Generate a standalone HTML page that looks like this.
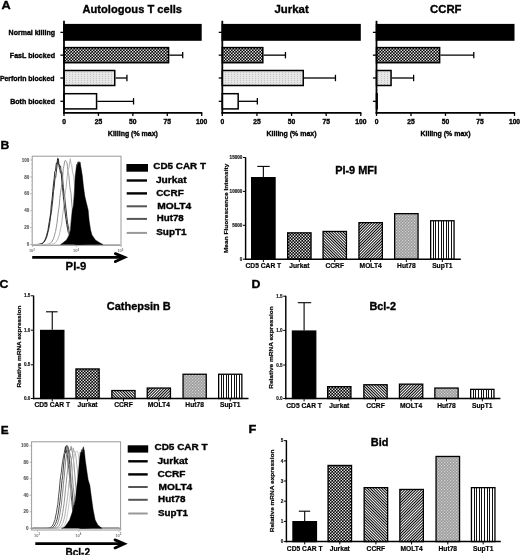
<!DOCTYPE html>
<html><head><meta charset="utf-8"><style>
html,body{margin:0;padding:0;background:#fff;}
svg{display:block;filter:grayscale(1) blur(0.45px);}
</style></head><body>
<svg width="520" height="555" viewBox="0 0 520 555" font-family="Liberation Sans, sans-serif" font-weight="bold">
<defs>
<pattern id="pCheck" width="3" height="3" patternUnits="userSpaceOnUse">
 <rect width="3" height="3" fill="#000"/>
 <rect x="0.1" y="0.1" width="1.35" height="1.35" fill="#fff"/>
 <rect x="1.6" y="1.6" width="1.35" height="1.35" fill="#fff"/>
</pattern>
<pattern id="pDots" width="3" height="2" patternUnits="userSpaceOnUse">
 <rect width="3" height="2" fill="#e6e6e6"/>
 <rect x="0" y="0" width="1" height="1" fill="#c4c4c4"/>
</pattern>
<pattern id="pBS" width="2" height="2" patternUnits="userSpaceOnUse" patternTransform="rotate(-45)">
 <rect width="2" height="2" fill="#fff"/>
 <rect width="1" height="2" fill="#000"/>
</pattern>
<pattern id="pFS" width="2" height="2" patternUnits="userSpaceOnUse" patternTransform="rotate(45)">
 <rect width="2" height="2" fill="#fff"/>
 <rect width="1" height="2" fill="#000"/>
</pattern>
<pattern id="pHut" width="3" height="3" patternUnits="userSpaceOnUse">
 <rect width="3" height="3" fill="#9c9c9c"/>
 <rect width="1.2" height="1.2" fill="#d4d4d4"/>
 <rect x="1.5" y="1.5" width="1.2" height="1.2" fill="#d4d4d4"/>
</pattern>
<pattern id="pVert" width="2.75" height="3" patternUnits="userSpaceOnUse" x="430">
 <rect width="2.75" height="3" fill="#fff"/>
 <rect width="1" height="3" fill="#000"/>
</pattern>
</defs>
<text x="6.00" y="8.80" font-size="11.5" text-anchor="middle" fill="#000" stroke="#000" stroke-width="0.35" textLength="9.20" lengthAdjust="spacingAndGlyphs" >A</text>
<text x="4.90" y="148.60" font-size="11.5" text-anchor="middle" fill="#000" stroke="#000" stroke-width="0.35" textLength="8.80" lengthAdjust="spacingAndGlyphs" >B</text>
<text x="4.00" y="288.30" font-size="11.5" text-anchor="middle" fill="#000" stroke="#000" stroke-width="0.35" textLength="8.90" lengthAdjust="spacingAndGlyphs" >C</text>
<text x="255.85" y="287.60" font-size="11.5" text-anchor="middle" fill="#000" stroke="#000" stroke-width="0.35" textLength="8.90" lengthAdjust="spacingAndGlyphs" >D</text>
<text x="4.60" y="433.50" font-size="11.5" text-anchor="middle" fill="#000" stroke="#000" stroke-width="0.35" textLength="7.90" lengthAdjust="spacingAndGlyphs" >E</text>
<text x="252.30" y="433.20" font-size="11.5" text-anchor="middle" fill="#000" stroke="#000" stroke-width="0.35" textLength="7.80" lengthAdjust="spacingAndGlyphs" >F</text>
<text x="132.30" y="12.50" font-size="11.3" text-anchor="middle" fill="#000" stroke="#000" stroke-width="0.35" textLength="99.50" lengthAdjust="spacingAndGlyphs" >Autologous T cells</text>
<rect x="64.00" y="24.65" width="136.95" height="15.40" fill="#000" stroke="#000" stroke-width="1.5"/>
<rect x="64.00" y="47.60" width="104.59" height="15.10" fill="url(#pCheck)" stroke="#000" stroke-width="1.5"/>
<line x1="169.34" y1="55.15" x2="182.70" y2="55.15" stroke="#000" stroke-width="1.3"/>
<line x1="182.70" y1="51.95" x2="182.70" y2="58.35" stroke="#000" stroke-width="1.3"/>
<rect x="64.00" y="70.50" width="50.75" height="15.00" fill="url(#pDots)" stroke="#000" stroke-width="1.5"/>
<line x1="115.50" y1="78.00" x2="126.93" y2="78.00" stroke="#000" stroke-width="1.3"/>
<line x1="126.93" y1="74.80" x2="126.93" y2="81.20" stroke="#000" stroke-width="1.3"/>
<rect x="64.00" y="93.70" width="32.57" height="15.20" fill="#fff" stroke="#000" stroke-width="1.5"/>
<line x1="97.32" y1="101.30" x2="133.54" y2="101.30" stroke="#000" stroke-width="1.3"/>
<line x1="133.54" y1="98.10" x2="133.54" y2="104.50" stroke="#000" stroke-width="1.3"/>
<line x1="64.00" y1="20.80" x2="64.00" y2="113.60" stroke="#000" stroke-width="1.8"/>
<line x1="63.10" y1="112.90" x2="202.30" y2="112.90" stroke="#000" stroke-width="1.8"/>
<line x1="60.40" y1="32.35" x2="64.00" y2="32.35" stroke="#000" stroke-width="1.3"/>
<line x1="60.40" y1="55.15" x2="64.00" y2="55.15" stroke="#000" stroke-width="1.3"/>
<line x1="60.40" y1="78.00" x2="64.00" y2="78.00" stroke="#000" stroke-width="1.3"/>
<line x1="60.40" y1="101.30" x2="64.00" y2="101.30" stroke="#000" stroke-width="1.3"/>
<line x1="64.00" y1="112.90" x2="64.00" y2="115.90" stroke="#000" stroke-width="1.3"/>
<text x="64.00" y="123.80" font-size="6.7" text-anchor="middle" fill="#000" stroke="#000" stroke-width="0.35" >0</text>
<line x1="98.42" y1="112.90" x2="98.42" y2="115.90" stroke="#000" stroke-width="1.3"/>
<text x="98.42" y="123.80" font-size="6.7" text-anchor="middle" fill="#000" stroke="#000" stroke-width="0.35" >25</text>
<line x1="132.85" y1="112.90" x2="132.85" y2="115.90" stroke="#000" stroke-width="1.3"/>
<text x="132.85" y="123.80" font-size="6.7" text-anchor="middle" fill="#000" stroke="#000" stroke-width="0.35" >50</text>
<line x1="167.27" y1="112.90" x2="167.27" y2="115.90" stroke="#000" stroke-width="1.3"/>
<text x="167.27" y="123.80" font-size="6.7" text-anchor="middle" fill="#000" stroke="#000" stroke-width="0.35" >75</text>
<line x1="201.70" y1="112.90" x2="201.70" y2="115.90" stroke="#000" stroke-width="1.3"/>
<text x="201.70" y="123.80" font-size="6.7" text-anchor="middle" fill="#000" stroke="#000" stroke-width="0.35" >100</text>
<text x="132.85" y="135.70" font-size="7.2" text-anchor="middle" fill="#000" stroke="#000" stroke-width="0.35" textLength="50.00" lengthAdjust="spacingAndGlyphs" >Killing (% max)</text>
<text x="31.80" y="34.50" font-size="7.0" text-anchor="middle" fill="#000" stroke="#000" stroke-width="0.35" textLength="46.40" lengthAdjust="spacingAndGlyphs" >Normal killing</text>
<text x="32.40" y="57.80" font-size="7.0" text-anchor="middle" fill="#000" stroke="#000" stroke-width="0.35" textLength="45.20" lengthAdjust="spacingAndGlyphs" >FasL blocked</text>
<text x="27.20" y="81.00" font-size="7.0" text-anchor="middle" fill="#000" stroke="#000" stroke-width="0.35" textLength="54.60" lengthAdjust="spacingAndGlyphs" >Perforin blocked</text>
<text x="32.60" y="104.00" font-size="7.0" text-anchor="middle" fill="#000" stroke="#000" stroke-width="0.35" textLength="44.80" lengthAdjust="spacingAndGlyphs" >Both blocked</text>
<text x="291.60" y="12.50" font-size="11.3" text-anchor="middle" fill="#000" stroke="#000" stroke-width="0.35" textLength="34.20" lengthAdjust="spacingAndGlyphs" >Jurkat</text>
<rect x="222.30" y="24.65" width="137.75" height="15.40" fill="#000" stroke="#000" stroke-width="1.5"/>
<rect x="222.30" y="47.60" width="40.52" height="15.10" fill="url(#pCheck)" stroke="#000" stroke-width="1.5"/>
<line x1="263.57" y1="55.15" x2="285.46" y2="55.15" stroke="#000" stroke-width="1.3"/>
<line x1="285.46" y1="51.95" x2="285.46" y2="58.35" stroke="#000" stroke-width="1.3"/>
<rect x="222.30" y="70.50" width="80.97" height="15.00" fill="url(#pDots)" stroke="#000" stroke-width="1.5"/>
<line x1="304.01" y1="78.00" x2="335.45" y2="78.00" stroke="#000" stroke-width="1.3"/>
<line x1="335.45" y1="74.80" x2="335.45" y2="81.20" stroke="#000" stroke-width="1.3"/>
<rect x="222.30" y="93.70" width="15.87" height="15.20" fill="#fff" stroke="#000" stroke-width="1.5"/>
<line x1="238.92" y1="101.30" x2="257.34" y2="101.30" stroke="#000" stroke-width="1.3"/>
<line x1="257.34" y1="98.10" x2="257.34" y2="104.50" stroke="#000" stroke-width="1.3"/>
<line x1="222.30" y1="20.80" x2="222.30" y2="113.60" stroke="#000" stroke-width="1.8"/>
<line x1="221.40" y1="112.90" x2="361.40" y2="112.90" stroke="#000" stroke-width="1.8"/>
<line x1="218.70" y1="32.35" x2="222.30" y2="32.35" stroke="#000" stroke-width="1.3"/>
<line x1="218.70" y1="55.15" x2="222.30" y2="55.15" stroke="#000" stroke-width="1.3"/>
<line x1="218.70" y1="78.00" x2="222.30" y2="78.00" stroke="#000" stroke-width="1.3"/>
<line x1="218.70" y1="101.30" x2="222.30" y2="101.30" stroke="#000" stroke-width="1.3"/>
<line x1="222.30" y1="112.90" x2="222.30" y2="115.90" stroke="#000" stroke-width="1.3"/>
<text x="222.30" y="123.80" font-size="6.7" text-anchor="middle" fill="#000" stroke="#000" stroke-width="0.35" >0</text>
<line x1="256.93" y1="112.90" x2="256.93" y2="115.90" stroke="#000" stroke-width="1.3"/>
<text x="256.93" y="123.80" font-size="6.7" text-anchor="middle" fill="#000" stroke="#000" stroke-width="0.35" >25</text>
<line x1="291.55" y1="112.90" x2="291.55" y2="115.90" stroke="#000" stroke-width="1.3"/>
<text x="291.55" y="123.80" font-size="6.7" text-anchor="middle" fill="#000" stroke="#000" stroke-width="0.35" >50</text>
<line x1="326.18" y1="112.90" x2="326.18" y2="115.90" stroke="#000" stroke-width="1.3"/>
<text x="326.18" y="123.80" font-size="6.7" text-anchor="middle" fill="#000" stroke="#000" stroke-width="0.35" >75</text>
<line x1="360.80" y1="112.90" x2="360.80" y2="115.90" stroke="#000" stroke-width="1.3"/>
<text x="360.80" y="123.80" font-size="6.7" text-anchor="middle" fill="#000" stroke="#000" stroke-width="0.35" >100</text>
<text x="291.55" y="135.70" font-size="7.2" text-anchor="middle" fill="#000" stroke="#000" stroke-width="0.35" textLength="50.00" lengthAdjust="spacingAndGlyphs" >Killing (% max)</text>
<text x="445.80" y="12.50" font-size="11.3" text-anchor="middle" fill="#000" stroke="#000" stroke-width="0.35" textLength="31.40" lengthAdjust="spacingAndGlyphs" >CCRF</text>
<rect x="376.50" y="24.65" width="137.25" height="15.40" fill="#000" stroke="#000" stroke-width="1.5"/>
<rect x="376.50" y="47.60" width="63.14" height="15.10" fill="url(#pCheck)" stroke="#000" stroke-width="1.5"/>
<line x1="440.39" y1="55.15" x2="473.79" y2="55.15" stroke="#000" stroke-width="1.3"/>
<line x1="473.79" y1="51.95" x2="473.79" y2="58.35" stroke="#000" stroke-width="1.3"/>
<rect x="376.50" y="70.50" width="14.57" height="15.00" fill="url(#pDots)" stroke="#000" stroke-width="1.5"/>
<line x1="391.82" y1="78.00" x2="413.62" y2="78.00" stroke="#000" stroke-width="1.3"/>
<line x1="413.62" y1="74.80" x2="413.62" y2="81.20" stroke="#000" stroke-width="1.3"/>
<rect x="376.50" y="93.70" width="0.63" height="15.20" fill="#fff" stroke="#000" stroke-width="1.5"/>
<line x1="376.50" y1="20.80" x2="376.50" y2="113.60" stroke="#000" stroke-width="1.8"/>
<line x1="375.60" y1="112.90" x2="515.10" y2="112.90" stroke="#000" stroke-width="1.8"/>
<line x1="372.90" y1="32.35" x2="376.50" y2="32.35" stroke="#000" stroke-width="1.3"/>
<line x1="372.90" y1="55.15" x2="376.50" y2="55.15" stroke="#000" stroke-width="1.3"/>
<line x1="372.90" y1="78.00" x2="376.50" y2="78.00" stroke="#000" stroke-width="1.3"/>
<line x1="372.90" y1="101.30" x2="376.50" y2="101.30" stroke="#000" stroke-width="1.3"/>
<line x1="376.50" y1="112.90" x2="376.50" y2="115.90" stroke="#000" stroke-width="1.3"/>
<text x="376.50" y="123.80" font-size="6.7" text-anchor="middle" fill="#000" stroke="#000" stroke-width="0.35" >0</text>
<line x1="411.00" y1="112.90" x2="411.00" y2="115.90" stroke="#000" stroke-width="1.3"/>
<text x="411.00" y="123.80" font-size="6.7" text-anchor="middle" fill="#000" stroke="#000" stroke-width="0.35" >25</text>
<line x1="445.50" y1="112.90" x2="445.50" y2="115.90" stroke="#000" stroke-width="1.3"/>
<text x="445.50" y="123.80" font-size="6.7" text-anchor="middle" fill="#000" stroke="#000" stroke-width="0.35" >50</text>
<line x1="480.00" y1="112.90" x2="480.00" y2="115.90" stroke="#000" stroke-width="1.3"/>
<text x="480.00" y="123.80" font-size="6.7" text-anchor="middle" fill="#000" stroke="#000" stroke-width="0.35" >75</text>
<line x1="514.50" y1="112.90" x2="514.50" y2="115.90" stroke="#000" stroke-width="1.3"/>
<text x="514.50" y="123.80" font-size="6.7" text-anchor="middle" fill="#000" stroke="#000" stroke-width="0.35" >100</text>
<text x="445.50" y="135.70" font-size="7.2" text-anchor="middle" fill="#000" stroke="#000" stroke-width="0.35" textLength="50.00" lengthAdjust="spacingAndGlyphs" >Killing (% max)</text>
<rect x="251.65" y="177.65" width="23.40" height="81.55" fill="#000" stroke="#000" stroke-width="1.3"/>
<rect x="287.65" y="232.85" width="23.40" height="26.35" fill="url(#pCheck)" stroke="#000" stroke-width="1.3"/>
<rect x="323.05" y="231.45" width="23.40" height="27.75" fill="url(#pBS)" stroke="#000" stroke-width="1.3"/>
<rect x="358.95" y="222.65" width="23.40" height="36.55" fill="url(#pFS)" stroke="#000" stroke-width="1.3"/>
<rect x="394.65" y="213.65" width="23.40" height="45.55" fill="url(#pHut)" stroke="#000" stroke-width="1.3"/>
<rect x="430.65" y="220.75" width="23.40" height="38.45" fill="#fff" stroke="#000" stroke-width="1.3"/>
<line x1="433.50" y1="220.85" x2="433.50" y2="259.20" stroke="#111" stroke-width="1.0"/>
<line x1="435.50" y1="220.85" x2="435.50" y2="259.20" stroke="#111" stroke-width="1.0"/>
<line x1="438.50" y1="220.85" x2="438.50" y2="259.20" stroke="#111" stroke-width="1.0"/>
<line x1="441.50" y1="220.85" x2="441.50" y2="259.20" stroke="#111" stroke-width="1.0"/>
<line x1="443.50" y1="220.85" x2="443.50" y2="259.20" stroke="#111" stroke-width="1.0"/>
<line x1="446.50" y1="220.85" x2="446.50" y2="259.20" stroke="#111" stroke-width="1.0"/>
<line x1="448.50" y1="220.85" x2="448.50" y2="259.20" stroke="#111" stroke-width="1.0"/>
<line x1="451.50" y1="220.85" x2="451.50" y2="259.20" stroke="#111" stroke-width="1.0"/>
<line x1="263.35" y1="177.00" x2="263.35" y2="166.40" stroke="#000" stroke-width="1.1"/>
<line x1="257.30" y1="166.40" x2="269.70" y2="166.40" stroke="#000" stroke-width="1.1"/>
<line x1="245.60" y1="157.40" x2="245.60" y2="259.90" stroke="#000" stroke-width="1.45"/>
<line x1="244.90" y1="259.20" x2="460.80" y2="259.20" stroke="#000" stroke-width="1.5"/>
<line x1="243.00" y1="157.50" x2="245.60" y2="157.50" stroke="#000" stroke-width="1.0"/>
<text x="242.40" y="159.10" font-size="4.6" text-anchor="end" fill="#111" stroke="#111" stroke-width="0.15" >15000</text>
<line x1="243.00" y1="191.40" x2="245.60" y2="191.40" stroke="#000" stroke-width="1.0"/>
<text x="242.40" y="193.00" font-size="4.6" text-anchor="end" fill="#111" stroke="#111" stroke-width="0.15" >10000</text>
<line x1="243.00" y1="225.30" x2="245.60" y2="225.30" stroke="#000" stroke-width="1.0"/>
<text x="242.40" y="226.90" font-size="4.6" text-anchor="end" fill="#111" stroke="#111" stroke-width="0.15" >5000</text>
<line x1="243.00" y1="259.20" x2="245.60" y2="259.20" stroke="#000" stroke-width="1.0"/>
<text x="242.40" y="260.80" font-size="4.6" text-anchor="end" fill="#111" stroke="#111" stroke-width="0.15" >0</text>
<line x1="263.35" y1="259.20" x2="263.35" y2="262.00" stroke="#000" stroke-width="1.0"/>
<text x="263.35" y="268.20" font-size="6.7" text-anchor="middle" fill="#000" stroke="#000" stroke-width="0.2" >CD5 CAR T</text>
<line x1="299.35" y1="259.20" x2="299.35" y2="262.00" stroke="#000" stroke-width="1.0"/>
<text x="299.35" y="268.20" font-size="6.7" text-anchor="middle" fill="#000" stroke="#000" stroke-width="0.2" >Jurkat</text>
<line x1="334.75" y1="259.20" x2="334.75" y2="262.00" stroke="#000" stroke-width="1.0"/>
<text x="334.75" y="268.20" font-size="6.7" text-anchor="middle" fill="#000" stroke="#000" stroke-width="0.2" >CCRF</text>
<line x1="370.65" y1="259.20" x2="370.65" y2="262.00" stroke="#000" stroke-width="1.0"/>
<text x="370.65" y="268.20" font-size="6.7" text-anchor="middle" fill="#000" stroke="#000" stroke-width="0.2" >MOLT4</text>
<line x1="406.35" y1="259.20" x2="406.35" y2="262.00" stroke="#000" stroke-width="1.0"/>
<text x="406.35" y="268.20" font-size="6.7" text-anchor="middle" fill="#000" stroke="#000" stroke-width="0.2" >Hut78</text>
<line x1="442.35" y1="259.20" x2="442.35" y2="262.00" stroke="#000" stroke-width="1.0"/>
<text x="442.35" y="268.20" font-size="6.7" text-anchor="middle" fill="#000" stroke="#000" stroke-width="0.2" >SupT1</text>
<text transform="translate(228.40,208.40) rotate(-90)" x="0" y="0" font-size="5.7" text-anchor="middle" fill="#000" stroke="#000" stroke-width="0.2" textLength="89.40" lengthAdjust="spacingAndGlyphs">Mean Fluorescence Intensity</text>
<text x="356.10" y="173.80" font-size="11.0" text-anchor="middle" fill="#000" stroke="#000" stroke-width="0.35" textLength="41.80" lengthAdjust="spacingAndGlyphs" >PI-9 MFI</text>
<rect x="40.65" y="330.45" width="23.20" height="68.05" fill="#000" stroke="#000" stroke-width="1.3"/>
<rect x="75.95" y="368.95" width="23.20" height="29.55" fill="url(#pCheck)" stroke="#000" stroke-width="1.3"/>
<rect x="111.85" y="390.55" width="23.20" height="7.95" fill="url(#pBS)" stroke="#000" stroke-width="1.3"/>
<rect x="147.25" y="388.05" width="23.20" height="10.45" fill="url(#pFS)" stroke="#000" stroke-width="1.3"/>
<rect x="183.05" y="374.25" width="23.20" height="24.25" fill="url(#pHut)" stroke="#000" stroke-width="1.3"/>
<rect x="218.65" y="374.25" width="23.20" height="24.25" fill="#fff" stroke="#000" stroke-width="1.3"/>
<line x1="221.50" y1="374.35" x2="221.50" y2="398.50" stroke="#111" stroke-width="1.0"/>
<line x1="223.50" y1="374.35" x2="223.50" y2="398.50" stroke="#111" stroke-width="1.0"/>
<line x1="226.50" y1="374.35" x2="226.50" y2="398.50" stroke="#111" stroke-width="1.0"/>
<line x1="228.50" y1="374.35" x2="228.50" y2="398.50" stroke="#111" stroke-width="1.0"/>
<line x1="231.50" y1="374.35" x2="231.50" y2="398.50" stroke="#111" stroke-width="1.0"/>
<line x1="234.50" y1="374.35" x2="234.50" y2="398.50" stroke="#111" stroke-width="1.0"/>
<line x1="236.50" y1="374.35" x2="236.50" y2="398.50" stroke="#111" stroke-width="1.0"/>
<line x1="239.50" y1="374.35" x2="239.50" y2="398.50" stroke="#111" stroke-width="1.0"/>
<line x1="52.25" y1="329.80" x2="52.25" y2="311.80" stroke="#000" stroke-width="1.1"/>
<line x1="46.00" y1="311.80" x2="57.60" y2="311.80" stroke="#000" stroke-width="1.1"/>
<line x1="33.60" y1="295.60" x2="33.60" y2="399.20" stroke="#000" stroke-width="1.45"/>
<line x1="32.90" y1="398.50" x2="248.50" y2="398.50" stroke="#000" stroke-width="1.5"/>
<line x1="31.00" y1="295.80" x2="33.60" y2="295.80" stroke="#000" stroke-width="1.0"/>
<text x="30.40" y="297.40" font-size="4.6" text-anchor="end" fill="#111" stroke="#111" stroke-width="0.15" >1.5</text>
<line x1="31.00" y1="330.20" x2="33.60" y2="330.20" stroke="#000" stroke-width="1.0"/>
<text x="30.40" y="331.80" font-size="4.6" text-anchor="end" fill="#111" stroke="#111" stroke-width="0.15" >1.0</text>
<line x1="31.00" y1="364.80" x2="33.60" y2="364.80" stroke="#000" stroke-width="1.0"/>
<text x="30.40" y="366.40" font-size="4.6" text-anchor="end" fill="#111" stroke="#111" stroke-width="0.15" >0.5</text>
<line x1="31.00" y1="398.50" x2="33.60" y2="398.50" stroke="#000" stroke-width="1.0"/>
<text x="30.40" y="400.10" font-size="4.6" text-anchor="end" fill="#111" stroke="#111" stroke-width="0.15" >0.0</text>
<line x1="52.25" y1="398.50" x2="52.25" y2="401.30" stroke="#000" stroke-width="1.0"/>
<text x="52.25" y="407.40" font-size="6.7" text-anchor="middle" fill="#000" stroke="#000" stroke-width="0.2" >CD5 CAR T</text>
<line x1="87.55" y1="398.50" x2="87.55" y2="401.30" stroke="#000" stroke-width="1.0"/>
<text x="87.55" y="407.40" font-size="6.7" text-anchor="middle" fill="#000" stroke="#000" stroke-width="0.2" >Jurkat</text>
<line x1="123.45" y1="398.50" x2="123.45" y2="401.30" stroke="#000" stroke-width="1.0"/>
<text x="123.45" y="407.40" font-size="6.7" text-anchor="middle" fill="#000" stroke="#000" stroke-width="0.2" >CCRF</text>
<line x1="158.85" y1="398.50" x2="158.85" y2="401.30" stroke="#000" stroke-width="1.0"/>
<text x="158.85" y="407.40" font-size="6.7" text-anchor="middle" fill="#000" stroke="#000" stroke-width="0.2" >MOLT4</text>
<line x1="194.65" y1="398.50" x2="194.65" y2="401.30" stroke="#000" stroke-width="1.0"/>
<text x="194.65" y="407.40" font-size="6.7" text-anchor="middle" fill="#000" stroke="#000" stroke-width="0.2" >Hut78</text>
<line x1="230.25" y1="398.50" x2="230.25" y2="401.30" stroke="#000" stroke-width="1.0"/>
<text x="230.25" y="407.40" font-size="6.7" text-anchor="middle" fill="#000" stroke="#000" stroke-width="0.2" >SupT1</text>
<text transform="translate(20.90,346.60) rotate(-90)" x="0" y="0" font-size="5.8" text-anchor="middle" fill="#000" stroke="#000" stroke-width="0.2" textLength="82.00" lengthAdjust="spacingAndGlyphs">Relative mRNA expression</text>
<text x="138.80" y="309.60" font-size="11.0" text-anchor="middle" fill="#000" stroke="#000" stroke-width="0.35" textLength="64.00" lengthAdjust="spacingAndGlyphs" >Cathepsin B</text>
<rect x="292.45" y="331.05" width="23.30" height="67.45" fill="#000" stroke="#000" stroke-width="1.3"/>
<rect x="327.65" y="386.65" width="23.30" height="11.85" fill="url(#pCheck)" stroke="#000" stroke-width="1.3"/>
<rect x="363.85" y="384.75" width="23.30" height="13.75" fill="url(#pBS)" stroke="#000" stroke-width="1.3"/>
<rect x="399.45" y="384.15" width="23.30" height="14.35" fill="url(#pFS)" stroke="#000" stroke-width="1.3"/>
<rect x="434.85" y="388.05" width="23.30" height="10.45" fill="url(#pHut)" stroke="#000" stroke-width="1.3"/>
<rect x="470.65" y="389.35" width="23.30" height="9.15" fill="#fff" stroke="#000" stroke-width="1.3"/>
<line x1="473.50" y1="389.45" x2="473.50" y2="398.50" stroke="#111" stroke-width="1.0"/>
<line x1="475.50" y1="389.45" x2="475.50" y2="398.50" stroke="#111" stroke-width="1.0"/>
<line x1="478.50" y1="389.45" x2="478.50" y2="398.50" stroke="#111" stroke-width="1.0"/>
<line x1="481.50" y1="389.45" x2="481.50" y2="398.50" stroke="#111" stroke-width="1.0"/>
<line x1="483.50" y1="389.45" x2="483.50" y2="398.50" stroke="#111" stroke-width="1.0"/>
<line x1="486.50" y1="389.45" x2="486.50" y2="398.50" stroke="#111" stroke-width="1.0"/>
<line x1="488.50" y1="389.45" x2="488.50" y2="398.50" stroke="#111" stroke-width="1.0"/>
<line x1="491.50" y1="389.45" x2="491.50" y2="398.50" stroke="#111" stroke-width="1.0"/>
<line x1="304.10" y1="330.40" x2="304.10" y2="302.70" stroke="#000" stroke-width="1.1"/>
<line x1="297.80" y1="302.70" x2="311.20" y2="302.70" stroke="#000" stroke-width="1.1"/>
<line x1="285.80" y1="295.80" x2="285.80" y2="399.20" stroke="#000" stroke-width="1.45"/>
<line x1="285.10" y1="398.50" x2="500.40" y2="398.50" stroke="#000" stroke-width="1.5"/>
<line x1="283.20" y1="296.20" x2="285.80" y2="296.20" stroke="#000" stroke-width="1.0"/>
<text x="282.60" y="297.80" font-size="4.6" text-anchor="end" fill="#111" stroke="#111" stroke-width="0.15" >1.5</text>
<line x1="283.20" y1="330.40" x2="285.80" y2="330.40" stroke="#000" stroke-width="1.0"/>
<text x="282.60" y="332.00" font-size="4.6" text-anchor="end" fill="#111" stroke="#111" stroke-width="0.15" >1.0</text>
<line x1="283.20" y1="365.00" x2="285.80" y2="365.00" stroke="#000" stroke-width="1.0"/>
<text x="282.60" y="366.60" font-size="4.6" text-anchor="end" fill="#111" stroke="#111" stroke-width="0.15" >0.5</text>
<line x1="283.20" y1="398.50" x2="285.80" y2="398.50" stroke="#000" stroke-width="1.0"/>
<text x="282.60" y="400.10" font-size="4.6" text-anchor="end" fill="#111" stroke="#111" stroke-width="0.15" >0.0</text>
<line x1="304.10" y1="398.50" x2="304.10" y2="401.30" stroke="#000" stroke-width="1.0"/>
<text x="304.10" y="407.60" font-size="6.7" text-anchor="middle" fill="#000" stroke="#000" stroke-width="0.2" >CD5 CAR T</text>
<line x1="339.30" y1="398.50" x2="339.30" y2="401.30" stroke="#000" stroke-width="1.0"/>
<text x="339.30" y="407.60" font-size="6.7" text-anchor="middle" fill="#000" stroke="#000" stroke-width="0.2" >Jurkat</text>
<line x1="375.50" y1="398.50" x2="375.50" y2="401.30" stroke="#000" stroke-width="1.0"/>
<text x="375.50" y="407.60" font-size="6.7" text-anchor="middle" fill="#000" stroke="#000" stroke-width="0.2" >CCRF</text>
<line x1="411.10" y1="398.50" x2="411.10" y2="401.30" stroke="#000" stroke-width="1.0"/>
<text x="411.10" y="407.60" font-size="6.7" text-anchor="middle" fill="#000" stroke="#000" stroke-width="0.2" >MOLT4</text>
<line x1="446.50" y1="398.50" x2="446.50" y2="401.30" stroke="#000" stroke-width="1.0"/>
<text x="446.50" y="407.60" font-size="6.7" text-anchor="middle" fill="#000" stroke="#000" stroke-width="0.2" >Hut78</text>
<line x1="482.30" y1="398.50" x2="482.30" y2="401.30" stroke="#000" stroke-width="1.0"/>
<text x="482.30" y="407.60" font-size="6.7" text-anchor="middle" fill="#000" stroke="#000" stroke-width="0.2" >SupT1</text>
<text transform="translate(273.00,347.50) rotate(-90)" x="0" y="0" font-size="5.8" text-anchor="middle" fill="#000" stroke="#000" stroke-width="0.2" textLength="82.50" lengthAdjust="spacingAndGlyphs">Relative mRNA expression</text>
<text x="382.70" y="310.00" font-size="11.0" text-anchor="middle" fill="#000" stroke="#000" stroke-width="0.35" textLength="26.60" lengthAdjust="spacingAndGlyphs" >Bcl-2</text>
<rect x="292.95" y="521.65" width="23.50" height="19.95" fill="#000" stroke="#000" stroke-width="1.3"/>
<rect x="328.05" y="465.45" width="23.50" height="76.15" fill="url(#pCheck)" stroke="#000" stroke-width="1.3"/>
<rect x="364.15" y="487.65" width="23.50" height="53.95" fill="url(#pBS)" stroke="#000" stroke-width="1.3"/>
<rect x="399.85" y="489.45" width="23.50" height="52.15" fill="url(#pFS)" stroke="#000" stroke-width="1.3"/>
<rect x="436.05" y="456.45" width="23.50" height="85.15" fill="url(#pHut)" stroke="#000" stroke-width="1.3"/>
<rect x="471.45" y="487.65" width="23.50" height="53.95" fill="#fff" stroke="#000" stroke-width="1.3"/>
<line x1="474.50" y1="487.75" x2="474.50" y2="541.60" stroke="#111" stroke-width="1.0"/>
<line x1="476.50" y1="487.75" x2="476.50" y2="541.60" stroke="#111" stroke-width="1.0"/>
<line x1="479.50" y1="487.75" x2="479.50" y2="541.60" stroke="#111" stroke-width="1.0"/>
<line x1="481.50" y1="487.75" x2="481.50" y2="541.60" stroke="#111" stroke-width="1.0"/>
<line x1="484.50" y1="487.75" x2="484.50" y2="541.60" stroke="#111" stroke-width="1.0"/>
<line x1="487.50" y1="487.75" x2="487.50" y2="541.60" stroke="#111" stroke-width="1.0"/>
<line x1="489.50" y1="487.75" x2="489.50" y2="541.60" stroke="#111" stroke-width="1.0"/>
<line x1="492.50" y1="487.75" x2="492.50" y2="541.60" stroke="#111" stroke-width="1.0"/>
<line x1="304.70" y1="521.00" x2="304.70" y2="511.20" stroke="#000" stroke-width="1.1"/>
<line x1="298.80" y1="511.20" x2="310.20" y2="511.20" stroke="#000" stroke-width="1.1"/>
<line x1="286.40" y1="440.20" x2="286.40" y2="542.30" stroke="#000" stroke-width="1.45"/>
<line x1="285.70" y1="541.60" x2="500.80" y2="541.60" stroke="#000" stroke-width="1.5"/>
<line x1="283.80" y1="440.70" x2="286.40" y2="440.70" stroke="#000" stroke-width="1.0"/>
<text x="283.20" y="442.30" font-size="4.6" text-anchor="end" fill="#111" stroke="#111" stroke-width="0.15" >5</text>
<line x1="283.80" y1="460.90" x2="286.40" y2="460.90" stroke="#000" stroke-width="1.0"/>
<text x="283.20" y="462.50" font-size="4.6" text-anchor="end" fill="#111" stroke="#111" stroke-width="0.15" >4</text>
<line x1="283.80" y1="481.00" x2="286.40" y2="481.00" stroke="#000" stroke-width="1.0"/>
<text x="283.20" y="482.60" font-size="4.6" text-anchor="end" fill="#111" stroke="#111" stroke-width="0.15" >3</text>
<line x1="283.80" y1="501.20" x2="286.40" y2="501.20" stroke="#000" stroke-width="1.0"/>
<text x="283.20" y="502.80" font-size="4.6" text-anchor="end" fill="#111" stroke="#111" stroke-width="0.15" >2</text>
<line x1="283.80" y1="521.40" x2="286.40" y2="521.40" stroke="#000" stroke-width="1.0"/>
<text x="283.20" y="523.00" font-size="4.6" text-anchor="end" fill="#111" stroke="#111" stroke-width="0.15" >1</text>
<line x1="283.80" y1="541.60" x2="286.40" y2="541.60" stroke="#000" stroke-width="1.0"/>
<text x="283.20" y="543.20" font-size="4.6" text-anchor="end" fill="#111" stroke="#111" stroke-width="0.15" >0</text>
<line x1="304.70" y1="541.60" x2="304.70" y2="544.40" stroke="#000" stroke-width="1.0"/>
<text x="304.70" y="550.60" font-size="6.7" text-anchor="middle" fill="#000" stroke="#000" stroke-width="0.2" >CD5 CAR T</text>
<line x1="339.80" y1="541.60" x2="339.80" y2="544.40" stroke="#000" stroke-width="1.0"/>
<text x="339.80" y="550.60" font-size="6.7" text-anchor="middle" fill="#000" stroke="#000" stroke-width="0.2" >Jurkat</text>
<line x1="375.90" y1="541.60" x2="375.90" y2="544.40" stroke="#000" stroke-width="1.0"/>
<text x="375.90" y="550.60" font-size="6.7" text-anchor="middle" fill="#000" stroke="#000" stroke-width="0.2" >CCRF</text>
<line x1="411.60" y1="541.60" x2="411.60" y2="544.40" stroke="#000" stroke-width="1.0"/>
<text x="411.60" y="550.60" font-size="6.7" text-anchor="middle" fill="#000" stroke="#000" stroke-width="0.2" >MOLT4</text>
<line x1="447.80" y1="541.60" x2="447.80" y2="544.40" stroke="#000" stroke-width="1.0"/>
<text x="447.80" y="550.60" font-size="6.7" text-anchor="middle" fill="#000" stroke="#000" stroke-width="0.2" >Hut78</text>
<line x1="483.20" y1="541.60" x2="483.20" y2="544.40" stroke="#000" stroke-width="1.0"/>
<text x="483.20" y="550.60" font-size="6.7" text-anchor="middle" fill="#000" stroke="#000" stroke-width="0.2" >SupT1</text>
<text transform="translate(274.00,490.90) rotate(-90)" x="0" y="0" font-size="6.0" text-anchor="middle" fill="#000" stroke="#000" stroke-width="0.2" textLength="82.60" lengthAdjust="spacingAndGlyphs">Relative mRNA expression</text>
<text x="379.60" y="446.20" font-size="11.0" text-anchor="middle" fill="#000" stroke="#000" stroke-width="0.35" textLength="17.70" lengthAdjust="spacingAndGlyphs" >Bid</text>
<rect x="32.2" y="156.2" width="88.8" height="89.20000000000002" fill="#fff" stroke="#9a9a9a" stroke-width="1.0"/>
<path d="M33.20,244.50 L33.90,244.50 L34.60,244.49 L35.30,244.49 L36.00,244.48 L36.70,244.47 L37.40,244.45 L38.10,244.40 L38.80,244.35 L39.50,244.27 L40.20,244.12 L40.90,243.95 L41.60,243.65 L42.30,243.29 L43.00,242.73 L43.70,242.10 L44.40,240.98 L45.10,239.55 L45.80,238.03 L46.50,235.72 L47.20,233.10 L47.90,230.73 L48.60,225.83 L49.30,221.68 L50.00,217.41 L50.70,212.85 L51.40,203.83 L52.10,199.04 L52.80,191.27 L53.50,183.77 L54.20,178.47 L54.90,171.31 L55.60,170.27 L56.30,163.32 L57.00,163.55 L57.70,158.22 L58.40,158.81 L59.10,166.78 L59.80,169.34 L60.50,172.82 L61.20,172.79 L61.90,182.39 L62.60,187.80 L63.30,196.22 L64.00,201.91 L64.70,208.81 L65.40,214.87 L66.10,219.68 L66.80,224.55 L67.50,228.26 L68.20,232.19 L68.90,234.90 L69.60,237.38 L70.30,239.20 L71.00,240.80 L71.70,242.01 L72.40,242.65 L73.10,243.22 L73.80,243.65 L74.50,243.96 L75.20,244.14 L75.90,244.29 L76.60,244.36 L77.30,244.41 L78.00,244.45 L78.70,244.47 L79.40,244.48 L80.10,244.49 L80.80,244.49 L81.50,244.50 L82.20,244.50 L82.90,244.50 L83.60,244.50 L84.30,244.50 L85.00,244.50 L85.70,244.50 L86.40,244.50 L87.10,244.50 L87.80,244.50 L88.50,244.50 L89.20,244.50 L89.90,244.50 L90.60,244.50 L91.30,244.50 L92.00,244.50 L92.70,244.50 L93.40,244.50 L94.10,244.50 L94.80,244.50 L95.50,244.50 L96.20,244.50 L96.90,244.50 L97.60,244.50 L98.30,244.50 L99.00,244.50 L99.70,244.50 L100.40,244.50 L101.10,244.50 L101.80,244.50 L102.50,244.50 L103.20,244.50 L103.90,244.50 L104.60,244.50 L105.30,244.50 L106.00,244.50 L106.70,244.50 L107.40,244.50 L108.10,244.50 L108.80,244.50 L109.50,244.50 L110.20,244.50 L110.90,244.50 L111.60,244.50 L112.30,244.50 L113.00,244.50 L113.70,244.50 L114.40,244.50 L115.10,244.50 L115.80,244.50 L116.50,244.50 L117.20,244.50 L117.90,244.50 L118.60,244.50 L119.30,244.50 L120.00,244.50" fill="none" stroke="#111" stroke-width="0.9"/>
<path d="M33.20,244.50 L33.90,244.50 L34.60,244.49 L35.30,244.49 L36.00,244.48 L36.70,244.47 L37.40,244.45 L38.10,244.42 L38.80,244.37 L39.50,244.30 L40.20,244.20 L40.90,244.04 L41.60,243.80 L42.30,243.51 L43.00,243.06 L43.70,242.38 L44.40,241.77 L45.10,240.54 L45.80,239.06 L46.50,237.57 L47.20,235.51 L47.90,232.23 L48.60,229.79 L49.30,226.23 L50.00,221.47 L50.70,215.89 L51.40,212.40 L52.10,205.98 L52.80,199.97 L53.50,191.29 L54.20,187.22 L54.90,178.73 L55.60,177.88 L56.30,172.11 L57.00,165.96 L57.70,161.31 L58.40,163.26 L59.10,164.84 L59.80,166.73 L60.50,165.82 L61.20,171.96 L61.90,172.10 L62.60,177.49 L63.30,187.55 L64.00,193.19 L64.70,197.05 L65.40,204.22 L66.10,209.77 L66.80,216.82 L67.50,222.29 L68.20,226.29 L68.90,229.31 L69.60,233.25 L70.30,235.81 L71.00,237.90 L71.70,239.60 L72.40,240.93 L73.10,241.81 L73.80,242.74 L74.50,243.30 L75.20,243.60 L75.90,243.90 L76.60,244.10 L77.30,244.25 L78.00,244.34 L78.70,244.40 L79.40,244.44 L80.10,244.46 L80.80,244.48 L81.50,244.49 L82.20,244.49 L82.90,244.50 L83.60,244.50 L84.30,244.50 L85.00,244.50 L85.70,244.50 L86.40,244.50 L87.10,244.50 L87.80,244.50 L88.50,244.50 L89.20,244.50 L89.90,244.50 L90.60,244.50 L91.30,244.50 L92.00,244.50 L92.70,244.50 L93.40,244.50 L94.10,244.50 L94.80,244.50 L95.50,244.50 L96.20,244.50 L96.90,244.50 L97.60,244.50 L98.30,244.50 L99.00,244.50 L99.70,244.50 L100.40,244.50 L101.10,244.50 L101.80,244.50 L102.50,244.50 L103.20,244.50 L103.90,244.50 L104.60,244.50 L105.30,244.50 L106.00,244.50 L106.70,244.50 L107.40,244.50 L108.10,244.50 L108.80,244.50 L109.50,244.50 L110.20,244.50 L110.90,244.50 L111.60,244.50 L112.30,244.50 L113.00,244.50 L113.70,244.50 L114.40,244.50 L115.10,244.50 L115.80,244.50 L116.50,244.50 L117.20,244.50 L117.90,244.50 L118.60,244.50 L119.30,244.50 L120.00,244.50" fill="none" stroke="#222" stroke-width="0.9"/>
<path d="M33.20,244.50 L33.90,244.50 L34.60,244.50 L35.30,244.50 L36.00,244.50 L36.70,244.50 L37.40,244.50 L38.10,244.50 L38.80,244.50 L39.50,244.50 L40.20,244.50 L40.90,244.50 L41.60,244.50 L42.30,244.49 L43.00,244.49 L43.70,244.48 L44.40,244.47 L45.10,244.45 L45.80,244.41 L46.50,244.36 L47.20,244.28 L47.90,244.16 L48.60,243.99 L49.30,243.74 L50.00,243.37 L50.70,242.82 L51.40,242.18 L52.10,241.16 L52.80,240.00 L53.50,238.53 L54.20,236.31 L54.90,233.60 L55.60,231.32 L56.30,227.19 L57.00,222.94 L57.70,216.88 L58.40,211.05 L59.10,207.02 L59.80,198.53 L60.50,192.39 L61.20,188.83 L61.90,181.58 L62.60,178.33 L63.30,168.56 L64.00,165.71 L64.70,161.11 L65.40,160.37 L66.10,161.30 L66.80,162.16 L67.50,166.30 L68.20,173.74 L68.90,175.28 L69.60,184.85 L70.30,190.14 L71.00,193.42 L71.70,203.40 L72.40,209.37 L73.10,215.13 L73.80,218.45 L74.50,224.93 L75.20,229.27 L75.90,231.65 L76.60,235.38 L77.30,237.15 L78.00,239.18 L78.70,240.60 L79.40,241.70 L80.10,242.62 L80.80,243.18 L81.50,243.68 L82.20,243.92 L82.90,244.13 L83.60,244.26 L84.30,244.36 L85.00,244.41 L85.70,244.44 L86.40,244.47 L87.10,244.48 L87.80,244.49 L88.50,244.49 L89.20,244.50 L89.90,244.50 L90.60,244.50 L91.30,244.50 L92.00,244.50 L92.70,244.50 L93.40,244.50 L94.10,244.50 L94.80,244.50 L95.50,244.50 L96.20,244.50 L96.90,244.50 L97.60,244.50 L98.30,244.50 L99.00,244.50 L99.70,244.50 L100.40,244.50 L101.10,244.50 L101.80,244.50 L102.50,244.50 L103.20,244.50 L103.90,244.50 L104.60,244.50 L105.30,244.50 L106.00,244.50 L106.70,244.50 L107.40,244.50 L108.10,244.50 L108.80,244.50 L109.50,244.50 L110.20,244.50 L110.90,244.50 L111.60,244.50 L112.30,244.50 L113.00,244.50 L113.70,244.50 L114.40,244.50 L115.10,244.50 L115.80,244.50 L116.50,244.50 L117.20,244.50 L117.90,244.50 L118.60,244.50 L119.30,244.50 L120.00,244.50" fill="none" stroke="#888" stroke-width="0.9"/>
<path d="M33.20,244.50 L33.90,244.50 L34.60,244.50 L35.30,244.50 L36.00,244.50 L36.70,244.50 L37.40,244.50 L38.10,244.50 L38.80,244.50 L39.50,244.50 L40.20,244.50 L40.90,244.50 L41.60,244.50 L42.30,244.50 L43.00,244.50 L43.70,244.50 L44.40,244.50 L45.10,244.50 L45.80,244.50 L46.50,244.50 L47.20,244.49 L47.90,244.49 L48.60,244.48 L49.30,244.46 L50.00,244.43 L50.70,244.39 L51.40,244.32 L52.10,244.23 L52.80,244.11 L53.50,243.91 L54.20,243.61 L54.90,243.21 L55.60,242.54 L56.30,241.69 L57.00,240.58 L57.70,239.47 L58.40,237.31 L59.10,235.49 L59.80,232.65 L60.50,228.88 L61.20,226.09 L61.90,221.72 L62.60,214.66 L63.30,210.69 L64.00,204.47 L64.70,197.17 L65.40,190.17 L66.10,187.75 L66.80,179.95 L67.50,173.99 L68.20,169.17 L68.90,167.92 L69.60,162.74 L70.30,158.82 L71.00,163.95 L71.70,164.61 L72.40,171.07 L73.10,174.13 L73.80,176.67 L74.50,186.09 L75.20,188.00 L75.90,194.71 L76.60,204.82 L77.30,207.83 L78.00,215.55 L78.70,219.80 L79.40,224.62 L80.10,229.46 L80.80,232.34 L81.50,235.21 L82.20,237.42 L82.90,239.54 L83.60,240.72 L84.30,241.75 L85.00,242.62 L85.70,243.22 L86.40,243.67 L87.10,243.93 L87.80,244.13 L88.50,244.25 L89.20,244.35 L89.90,244.41 L90.60,244.44 L91.30,244.47 L92.00,244.48 L92.70,244.49 L93.40,244.49 L94.10,244.50 L94.80,244.50 L95.50,244.50 L96.20,244.50 L96.90,244.50 L97.60,244.50 L98.30,244.50 L99.00,244.50 L99.70,244.50 L100.40,244.50 L101.10,244.50 L101.80,244.50 L102.50,244.50 L103.20,244.50 L103.90,244.50 L104.60,244.50 L105.30,244.50 L106.00,244.50 L106.70,244.50 L107.40,244.50 L108.10,244.50 L108.80,244.50 L109.50,244.50 L110.20,244.50 L110.90,244.50 L111.60,244.50 L112.30,244.50 L113.00,244.50 L113.70,244.50 L114.40,244.50 L115.10,244.50 L115.80,244.50 L116.50,244.50 L117.20,244.50 L117.90,244.50 L118.60,244.50 L119.30,244.50 L120.00,244.50" fill="none" stroke="#aaa" stroke-width="0.9"/>
<path d="M33.20,244.50 L33.90,244.50 L34.60,244.50 L35.30,244.50 L36.00,244.50 L36.70,244.50 L37.40,244.50 L38.10,244.50 L38.80,244.50 L39.50,244.50 L40.20,244.50 L40.90,244.50 L41.60,244.50 L42.30,244.50 L43.00,244.50 L43.70,244.50 L44.40,244.50 L45.10,244.50 L45.80,244.50 L46.50,244.50 L47.20,244.50 L47.90,244.50 L48.60,244.50 L49.30,244.50 L50.00,244.50 L50.70,244.50 L51.40,244.50 L52.10,244.50 L52.80,244.50 L53.50,244.50 L54.20,244.50 L54.90,244.50 L55.60,244.50 L56.30,244.49 L57.00,244.49 L57.70,244.48 L58.40,244.47 L59.10,244.45 L59.80,244.42 L60.50,244.36 L61.20,244.27 L61.90,244.15 L62.60,243.95 L63.30,243.63 L64.00,243.21 L64.70,242.76 L65.40,241.83 L66.10,240.79 L66.80,239.66 L67.50,237.71 L68.20,235.56 L68.90,232.96 L69.60,228.94 L70.30,224.06 L71.00,220.61 L71.70,213.75 L72.40,208.31 L73.10,204.30 L73.80,194.60 L74.50,189.33 L75.20,181.09 L75.90,176.57 L76.60,171.38 L77.30,170.38 L78.00,164.13 L78.70,161.78 L79.40,162.41 L80.10,167.08 L80.80,167.13 L81.50,172.71 L82.20,179.67 L82.90,185.02 L83.60,190.21 L84.30,195.27 L85.00,201.28 L85.70,205.68 L86.40,210.66 L87.10,216.49 L87.80,221.57 L88.50,225.38 L89.20,229.67 L89.90,232.59 L90.60,234.97 L91.30,237.45 L92.00,239.30 L92.70,240.36 L93.40,241.52 L94.10,242.43 L94.80,243.04 L95.50,243.46 L96.20,243.78 L96.90,244.03 L97.60,244.20 L98.30,244.30 L99.00,244.36 L99.70,244.42 L100.40,244.45 L101.10,244.47 L101.80,244.48 L102.50,244.49 L103.20,244.49 L103.90,244.50 L104.60,244.50 L105.30,244.50 L106.00,244.50 L106.70,244.50 L107.40,244.50 L108.10,244.50 L108.80,244.50 L109.50,244.50 L110.20,244.50 L110.90,244.50 L111.60,244.50 L112.30,244.50 L113.00,244.50 L113.70,244.50 L114.40,244.50 L115.10,244.50 L115.80,244.50 L116.50,244.50 L117.20,244.50 L117.90,244.50 L118.60,244.50 L119.30,244.50 L120.00,244.50" fill="none" stroke="#ccc" stroke-width="0.8"/>
<path d="M60.50,244.50 L62.70,243.00 L66.50,240.00 L69.40,235.00 L70.40,230.00 L71.30,220.00 L72.30,210.00 L73.30,206.00 L74.20,196.00 L74.70,186.00 L75.20,176.00 L76.20,168.00 L76.80,164.00 L77.30,166.00 L77.80,161.80 L78.40,163.50 L79.00,161.50 L79.60,163.00 L80.20,162.20 L80.80,166.50 L82.40,176.00 L83.40,186.00 L84.80,196.00 L86.70,204.00 L88.20,210.00 L89.10,220.00 L90.60,230.00 L92.00,235.00 L95.40,240.00 L100.20,243.00 L103.00,244.50 Z" fill="#000" stroke="#000" stroke-width="0.4"/>
<line x1="30.200000000000003" y1="244.50" x2="32.2" y2="244.50" stroke="#999" stroke-width="0.7"/>
<text x="29.200000000000003" y="246.10" font-size="4.5" text-anchor="end" fill="#555" stroke="#555" stroke-width="0.1">0</text>
<line x1="30.200000000000003" y1="227.60" x2="32.2" y2="227.60" stroke="#999" stroke-width="0.7"/>
<text x="29.200000000000003" y="229.20" font-size="4.5" text-anchor="end" fill="#555" stroke="#555" stroke-width="0.1">20</text>
<line x1="30.200000000000003" y1="210.70" x2="32.2" y2="210.70" stroke="#999" stroke-width="0.7"/>
<text x="29.200000000000003" y="212.30" font-size="4.5" text-anchor="end" fill="#555" stroke="#555" stroke-width="0.1">40</text>
<line x1="30.200000000000003" y1="193.80" x2="32.2" y2="193.80" stroke="#999" stroke-width="0.7"/>
<text x="29.200000000000003" y="195.40" font-size="4.5" text-anchor="end" fill="#555" stroke="#555" stroke-width="0.1">60</text>
<line x1="30.200000000000003" y1="176.90" x2="32.2" y2="176.90" stroke="#999" stroke-width="0.7"/>
<text x="29.200000000000003" y="178.50" font-size="4.5" text-anchor="end" fill="#555" stroke="#555" stroke-width="0.1">80</text>
<line x1="30.200000000000003" y1="160.00" x2="32.2" y2="160.00" stroke="#999" stroke-width="0.7"/>
<text x="29.200000000000003" y="161.60" font-size="4.5" text-anchor="end" fill="#555" stroke="#555" stroke-width="0.1">100</text>
<line x1="31.000000000000004" y1="240.28" x2="32.2" y2="240.28" stroke="#bbb" stroke-width="0.6"/>
<line x1="31.000000000000004" y1="236.05" x2="32.2" y2="236.05" stroke="#bbb" stroke-width="0.6"/>
<line x1="31.000000000000004" y1="231.82" x2="32.2" y2="231.82" stroke="#bbb" stroke-width="0.6"/>
<line x1="31.000000000000004" y1="223.38" x2="32.2" y2="223.38" stroke="#bbb" stroke-width="0.6"/>
<line x1="31.000000000000004" y1="219.15" x2="32.2" y2="219.15" stroke="#bbb" stroke-width="0.6"/>
<line x1="31.000000000000004" y1="214.93" x2="32.2" y2="214.93" stroke="#bbb" stroke-width="0.6"/>
<line x1="31.000000000000004" y1="206.47" x2="32.2" y2="206.47" stroke="#bbb" stroke-width="0.6"/>
<line x1="31.000000000000004" y1="202.25" x2="32.2" y2="202.25" stroke="#bbb" stroke-width="0.6"/>
<line x1="31.000000000000004" y1="198.03" x2="32.2" y2="198.03" stroke="#bbb" stroke-width="0.6"/>
<line x1="31.000000000000004" y1="189.57" x2="32.2" y2="189.57" stroke="#bbb" stroke-width="0.6"/>
<line x1="31.000000000000004" y1="185.35" x2="32.2" y2="185.35" stroke="#bbb" stroke-width="0.6"/>
<line x1="31.000000000000004" y1="181.12" x2="32.2" y2="181.12" stroke="#bbb" stroke-width="0.6"/>
<line x1="31.000000000000004" y1="172.68" x2="32.2" y2="172.68" stroke="#bbb" stroke-width="0.6"/>
<line x1="31.000000000000004" y1="168.45" x2="32.2" y2="168.45" stroke="#bbb" stroke-width="0.6"/>
<line x1="31.000000000000004" y1="164.22" x2="32.2" y2="164.22" stroke="#bbb" stroke-width="0.6"/>
<line x1="32.50" y1="245.4" x2="32.50" y2="247.20000000000002" stroke="#aaa" stroke-width="0.7"/>
<text x="31.90" y="252.20" font-size="4.0" text-anchor="middle" fill="#777">10<tspan font-size="2.8" dy="-1.6">3</tspan></text>
<line x1="76.60" y1="245.4" x2="76.60" y2="247.20000000000002" stroke="#aaa" stroke-width="0.7"/>
<text x="76.00" y="252.20" font-size="4.0" text-anchor="middle" fill="#777">10<tspan font-size="2.8" dy="-1.6">4</tspan></text>
<line x1="121.00" y1="245.4" x2="121.00" y2="247.20000000000002" stroke="#aaa" stroke-width="0.7"/>
<text x="120.40" y="252.20" font-size="4.0" text-anchor="middle" fill="#777">10<tspan font-size="2.8" dy="-1.6">5</tspan></text>
<line x1="32.2" y1="257.4" x2="123.6" y2="257.4" stroke="#000" stroke-width="2.8"/>
<polyline points="115.39999999999999,253.59999999999997 124.6,257.4 115.39999999999999,261.59999999999997" fill="none" stroke="#000" stroke-width="2.8" stroke-linecap="round" stroke-linejoin="miter"/>
<text x="76.0" y="269.6" font-size="11" text-anchor="middle" stroke="#000" stroke-width="0.3" textLength="20.8" lengthAdjust="spacingAndGlyphs">PI-9</text>
<rect x="126.4" y="164.0" width="21.60" height="7.70" fill="#000"/>
<line x1="126.7" y1="180.5" x2="147.0" y2="180.5" stroke="#000" stroke-width="2.4"/>
<line x1="126.7" y1="193.4" x2="147.0" y2="193.4" stroke="#000" stroke-width="2.4"/>
<line x1="126.7" y1="206.3" x2="147.0" y2="206.3" stroke="#555" stroke-width="2.0"/>
<line x1="126.7" y1="218.9" x2="147.0" y2="218.9" stroke="#555" stroke-width="2.0"/>
<line x1="126.7" y1="232.9" x2="147.0" y2="232.9" stroke="#999" stroke-width="2.0"/>
<text x="179.65" y="169.4" font-size="9.2" text-anchor="middle" stroke="#000" stroke-width="0.35" textLength="52.6" lengthAdjust="spacingAndGlyphs">CD5 CAR T</text>
<text x="171.25" y="183.0" font-size="9.2" text-anchor="middle" stroke="#000" stroke-width="0.35" textLength="30.6" lengthAdjust="spacingAndGlyphs">Jurkat</text>
<text x="170.0" y="195.8" font-size="9.2" text-anchor="middle" stroke="#000" stroke-width="0.35" textLength="27.6" lengthAdjust="spacingAndGlyphs">CCRF</text>
<text x="174.25" y="208.8" font-size="9.2" text-anchor="middle" stroke="#000" stroke-width="0.35" textLength="34.0" lengthAdjust="spacingAndGlyphs">MOLT4</text>
<text x="170.25" y="221.3" font-size="9.2" text-anchor="middle" stroke="#000" stroke-width="0.35" textLength="27.0" lengthAdjust="spacingAndGlyphs">Hut78</text>
<text x="171.4" y="234.6" font-size="9.2" text-anchor="middle" stroke="#000" stroke-width="0.35" textLength="30.4" lengthAdjust="spacingAndGlyphs">SupT1</text>
<rect x="31.6" y="441.8" width="89.0" height="88.19999999999999" fill="#fff" stroke="#9a9a9a" stroke-width="1.0"/>
<path d="M32.60,528.30 L33.30,528.30 L34.00,528.30 L34.70,528.30 L35.40,528.30 L36.10,528.30 L36.80,528.30 L37.50,528.30 L38.20,528.30 L38.90,528.30 L39.60,528.30 L40.30,528.30 L41.00,528.30 L41.70,528.30 L42.40,528.30 L43.10,528.30 L43.80,528.29 L44.50,528.29 L45.20,528.28 L45.90,528.26 L46.60,528.23 L47.30,528.20 L48.00,528.12 L48.70,528.02 L49.40,527.84 L50.10,527.62 L50.80,527.28 L51.50,526.64 L52.20,526.02 L52.90,525.02 L53.60,523.31 L54.30,521.48 L55.00,519.57 L55.70,515.91 L56.40,512.81 L57.10,508.23 L57.80,504.33 L58.50,496.62 L59.20,491.05 L59.90,483.10 L60.60,476.31 L61.30,472.63 L62.00,465.90 L62.70,461.49 L63.40,456.90 L64.10,453.94 L64.80,449.83 L65.50,446.62 L66.20,452.52 L66.90,450.46 L67.60,458.11 L68.30,464.79 L69.00,469.35 L69.70,479.36 L70.40,488.12 L71.10,495.12 L71.80,501.51 L72.50,509.03 L73.20,512.52 L73.90,517.88 L74.60,520.37 L75.30,522.80 L76.00,524.92 L76.70,525.92 L77.40,526.86 L78.10,527.39 L78.80,527.79 L79.50,528.00 L80.20,528.13 L80.90,528.20 L81.60,528.25 L82.30,528.27 L83.00,528.29 L83.70,528.29 L84.40,528.30 L85.10,528.30 L85.80,528.30 L86.50,528.30 L87.20,528.30 L87.90,528.30 L88.60,528.30 L89.30,528.30 L90.00,528.30 L90.70,528.30 L91.40,528.30 L92.10,528.30 L92.80,528.30 L93.50,528.30 L94.20,528.30 L94.90,528.30 L95.60,528.30 L96.30,528.30 L97.00,528.30 L97.70,528.30 L98.40,528.30 L99.10,528.30 L99.80,528.30 L100.50,528.30 L101.20,528.30 L101.90,528.30 L102.60,528.30 L103.30,528.30 L104.00,528.30 L104.70,528.30 L105.40,528.30 L106.10,528.30 L106.80,528.30 L107.50,528.30 L108.20,528.30 L108.90,528.30 L109.60,528.30 L110.30,528.30 L111.00,528.30 L111.70,528.30 L112.40,528.30 L113.10,528.30 L113.80,528.30 L114.50,528.30 L115.20,528.30 L115.90,528.30 L116.60,528.30 L117.30,528.30 L118.00,528.30 L118.70,528.30 L119.40,528.30" fill="none" stroke="#222" stroke-width="0.8"/>
<path d="M32.60,528.30 L33.30,528.30 L34.00,528.30 L34.70,528.30 L35.40,528.30 L36.10,528.30 L36.80,528.30 L37.50,528.30 L38.20,528.30 L38.90,528.30 L39.60,528.30 L40.30,528.30 L41.00,528.30 L41.70,528.30 L42.40,528.30 L43.10,528.30 L43.80,528.30 L44.50,528.30 L45.20,528.30 L45.90,528.29 L46.60,528.29 L47.30,528.28 L48.00,528.27 L48.70,528.24 L49.40,528.20 L50.10,528.14 L50.80,528.03 L51.50,527.87 L52.20,527.61 L52.90,527.20 L53.60,526.64 L54.30,525.93 L55.00,524.63 L55.70,523.22 L56.40,521.26 L57.10,519.23 L57.80,515.49 L58.50,512.03 L59.20,506.56 L59.90,501.60 L60.60,494.36 L61.30,488.18 L62.00,480.40 L62.70,475.54 L63.40,467.02 L64.10,460.04 L64.80,453.89 L65.50,453.23 L66.20,446.67 L66.90,445.33 L67.60,447.68 L68.30,448.78 L69.00,454.45 L69.70,464.46 L70.40,472.37 L71.10,482.56 L71.80,488.04 L72.50,495.85 L73.20,504.28 L73.90,509.88 L74.60,514.85 L75.30,518.79 L76.00,522.14 L76.70,523.95 L77.40,525.55 L78.10,526.57 L78.80,527.28 L79.50,527.69 L80.20,527.94 L80.90,528.11 L81.60,528.20 L82.30,528.25 L83.00,528.27 L83.70,528.29 L84.40,528.29 L85.10,528.30 L85.80,528.30 L86.50,528.30 L87.20,528.30 L87.90,528.30 L88.60,528.30 L89.30,528.30 L90.00,528.30 L90.70,528.30 L91.40,528.30 L92.10,528.30 L92.80,528.30 L93.50,528.30 L94.20,528.30 L94.90,528.30 L95.60,528.30 L96.30,528.30 L97.00,528.30 L97.70,528.30 L98.40,528.30 L99.10,528.30 L99.80,528.30 L100.50,528.30 L101.20,528.30 L101.90,528.30 L102.60,528.30 L103.30,528.30 L104.00,528.30 L104.70,528.30 L105.40,528.30 L106.10,528.30 L106.80,528.30 L107.50,528.30 L108.20,528.30 L108.90,528.30 L109.60,528.30 L110.30,528.30 L111.00,528.30 L111.70,528.30 L112.40,528.30 L113.10,528.30 L113.80,528.30 L114.50,528.30 L115.20,528.30 L115.90,528.30 L116.60,528.30 L117.30,528.30 L118.00,528.30 L118.70,528.30 L119.40,528.30" fill="none" stroke="#111" stroke-width="0.8"/>
<path d="M32.60,528.30 L33.30,528.30 L34.00,528.30 L34.70,528.30 L35.40,528.30 L36.10,528.30 L36.80,528.30 L37.50,528.30 L38.20,528.30 L38.90,528.30 L39.60,528.30 L40.30,528.30 L41.00,528.30 L41.70,528.30 L42.40,528.30 L43.10,528.30 L43.80,528.30 L44.50,528.30 L45.20,528.30 L45.90,528.30 L46.60,528.30 L47.30,528.30 L48.00,528.30 L48.70,528.29 L49.40,528.29 L50.10,528.27 L50.80,528.25 L51.50,528.21 L52.20,528.15 L52.90,528.03 L53.60,527.86 L54.30,527.63 L55.00,527.24 L55.70,526.67 L56.40,525.63 L57.10,524.63 L57.80,522.84 L58.50,520.71 L59.20,517.67 L59.90,514.07 L60.60,509.35 L61.30,505.46 L62.00,497.73 L62.70,492.51 L63.40,484.43 L64.10,477.97 L64.80,470.98 L65.50,462.74 L66.20,457.20 L66.90,453.25 L67.60,447.04 L68.30,446.79 L69.00,451.74 L69.70,452.61 L70.40,455.64 L71.10,458.77 L71.80,466.62 L72.50,476.69 L73.20,487.17 L73.90,491.94 L74.60,500.34 L75.30,506.33 L76.00,511.54 L76.70,516.12 L77.40,519.75 L78.10,522.12 L78.80,524.35 L79.50,525.71 L80.20,526.57 L80.90,527.30 L81.60,527.69 L82.30,527.92 L83.00,528.10 L83.70,528.18 L84.40,528.24 L85.10,528.27 L85.80,528.28 L86.50,528.29 L87.20,528.30 L87.90,528.30 L88.60,528.30 L89.30,528.30 L90.00,528.30 L90.70,528.30 L91.40,528.30 L92.10,528.30 L92.80,528.30 L93.50,528.30 L94.20,528.30 L94.90,528.30 L95.60,528.30 L96.30,528.30 L97.00,528.30 L97.70,528.30 L98.40,528.30 L99.10,528.30 L99.80,528.30 L100.50,528.30 L101.20,528.30 L101.90,528.30 L102.60,528.30 L103.30,528.30 L104.00,528.30 L104.70,528.30 L105.40,528.30 L106.10,528.30 L106.80,528.30 L107.50,528.30 L108.20,528.30 L108.90,528.30 L109.60,528.30 L110.30,528.30 L111.00,528.30 L111.70,528.30 L112.40,528.30 L113.10,528.30 L113.80,528.30 L114.50,528.30 L115.20,528.30 L115.90,528.30 L116.60,528.30 L117.30,528.30 L118.00,528.30 L118.70,528.30 L119.40,528.30" fill="none" stroke="#666" stroke-width="0.8"/>
<path d="M32.60,528.30 L33.30,528.30 L34.00,528.30 L34.70,528.30 L35.40,528.30 L36.10,528.30 L36.80,528.30 L37.50,528.30 L38.20,528.30 L38.90,528.30 L39.60,528.30 L40.30,528.30 L41.00,528.30 L41.70,528.30 L42.40,528.30 L43.10,528.30 L43.80,528.30 L44.50,528.30 L45.20,528.30 L45.90,528.30 L46.60,528.30 L47.30,528.30 L48.00,528.30 L48.70,528.30 L49.40,528.30 L50.10,528.30 L50.80,528.29 L51.50,528.29 L52.20,528.28 L52.90,528.27 L53.60,528.24 L54.30,528.20 L55.00,528.11 L55.70,528.00 L56.40,527.80 L57.10,527.44 L57.80,526.99 L58.50,526.38 L59.20,525.46 L59.90,523.79 L60.60,522.05 L61.30,519.45 L62.00,517.04 L62.70,512.55 L63.40,508.37 L64.10,503.27 L64.80,496.90 L65.50,489.11 L66.20,483.05 L66.90,475.67 L67.60,470.22 L68.30,459.43 L69.00,455.18 L69.70,449.88 L70.40,450.29 L71.10,446.34 L71.80,450.26 L72.50,452.88 L73.20,457.89 L73.90,463.03 L74.60,472.22 L75.30,481.15 L76.00,488.71 L76.70,495.10 L77.40,502.07 L78.10,505.92 L78.80,511.88 L79.50,515.72 L80.20,519.84 L80.90,522.02 L81.60,523.78 L82.30,525.34 L83.00,526.39 L83.70,527.07 L84.40,527.56 L85.10,527.85 L85.80,528.03 L86.50,528.14 L87.20,528.21 L87.90,528.25 L88.60,528.27 L89.30,528.29 L90.00,528.29 L90.70,528.30 L91.40,528.30 L92.10,528.30 L92.80,528.30 L93.50,528.30 L94.20,528.30 L94.90,528.30 L95.60,528.30 L96.30,528.30 L97.00,528.30 L97.70,528.30 L98.40,528.30 L99.10,528.30 L99.80,528.30 L100.50,528.30 L101.20,528.30 L101.90,528.30 L102.60,528.30 L103.30,528.30 L104.00,528.30 L104.70,528.30 L105.40,528.30 L106.10,528.30 L106.80,528.30 L107.50,528.30 L108.20,528.30 L108.90,528.30 L109.60,528.30 L110.30,528.30 L111.00,528.30 L111.70,528.30 L112.40,528.30 L113.10,528.30 L113.80,528.30 L114.50,528.30 L115.20,528.30 L115.90,528.30 L116.60,528.30 L117.30,528.30 L118.00,528.30 L118.70,528.30 L119.40,528.30" fill="none" stroke="#777" stroke-width="0.8"/>
<path d="M32.60,528.30 L33.30,528.30 L34.00,528.30 L34.70,528.30 L35.40,528.30 L36.10,528.30 L36.80,528.30 L37.50,528.30 L38.20,528.30 L38.90,528.30 L39.60,528.30 L40.30,528.30 L41.00,528.30 L41.70,528.30 L42.40,528.30 L43.10,528.30 L43.80,528.30 L44.50,528.30 L45.20,528.30 L45.90,528.30 L46.60,528.30 L47.30,528.30 L48.00,528.30 L48.70,528.30 L49.40,528.30 L50.10,528.30 L50.80,528.30 L51.50,528.30 L52.20,528.30 L52.90,528.29 L53.60,528.29 L54.30,528.28 L55.00,528.27 L55.70,528.24 L56.40,528.20 L57.10,528.14 L57.80,528.03 L58.50,527.86 L59.20,527.59 L59.90,527.19 L60.60,526.71 L61.30,525.90 L62.00,524.67 L62.70,523.43 L63.40,521.58 L64.10,518.94 L64.80,516.08 L65.50,511.16 L66.20,506.25 L66.90,502.00 L67.60,496.62 L68.30,490.41 L69.00,482.97 L69.70,476.95 L70.40,468.32 L71.10,461.11 L71.80,458.09 L72.50,455.43 L73.20,447.80 L73.90,451.91 L74.60,451.40 L75.30,453.33 L76.00,457.04 L76.70,464.67 L77.40,469.40 L78.10,477.42 L78.80,483.05 L79.50,491.46 L80.20,497.47 L80.90,504.54 L81.60,509.83 L82.30,514.69 L83.00,518.48 L83.70,521.03 L84.40,523.33 L85.10,524.83 L85.80,526.05 L86.50,526.86 L87.20,527.43 L87.90,527.74 L88.60,527.98 L89.30,528.12 L90.00,528.20 L90.70,528.24 L91.40,528.27 L92.10,528.28 L92.80,528.29 L93.50,528.30 L94.20,528.30 L94.90,528.30 L95.60,528.30 L96.30,528.30 L97.00,528.30 L97.70,528.30 L98.40,528.30 L99.10,528.30 L99.80,528.30 L100.50,528.30 L101.20,528.30 L101.90,528.30 L102.60,528.30 L103.30,528.30 L104.00,528.30 L104.70,528.30 L105.40,528.30 L106.10,528.30 L106.80,528.30 L107.50,528.30 L108.20,528.30 L108.90,528.30 L109.60,528.30 L110.30,528.30 L111.00,528.30 L111.70,528.30 L112.40,528.30 L113.10,528.30 L113.80,528.30 L114.50,528.30 L115.20,528.30 L115.90,528.30 L116.60,528.30 L117.30,528.30 L118.00,528.30 L118.70,528.30 L119.40,528.30" fill="none" stroke="#999" stroke-width="0.8"/>
<path d="M32.60,528.30 L33.30,528.30 L34.00,528.30 L34.70,528.30 L35.40,528.30 L36.10,528.30 L36.80,528.30 L37.50,528.30 L38.20,528.30 L38.90,528.30 L39.60,528.30 L40.30,528.30 L41.00,528.30 L41.70,528.30 L42.40,528.30 L43.10,528.30 L43.80,528.30 L44.50,528.30 L45.20,528.30 L45.90,528.30 L46.60,528.30 L47.30,528.30 L48.00,528.30 L48.70,528.30 L49.40,528.30 L50.10,528.30 L50.80,528.30 L51.50,528.30 L52.20,528.30 L52.90,528.30 L53.60,528.30 L54.30,528.30 L55.00,528.30 L55.70,528.29 L56.40,528.29 L57.10,528.28 L57.80,528.26 L58.50,528.23 L59.20,528.19 L59.90,528.10 L60.60,527.97 L61.30,527.78 L62.00,527.47 L62.70,527.04 L63.40,526.46 L64.10,525.51 L64.80,524.25 L65.50,522.52 L66.20,520.13 L66.90,517.58 L67.60,513.26 L68.30,509.11 L69.00,503.69 L69.70,498.40 L70.40,492.00 L71.10,485.64 L71.80,477.27 L72.50,472.53 L73.20,464.53 L73.90,457.95 L74.60,454.14 L75.30,452.41 L76.00,452.07 L76.70,451.66 L77.40,451.22 L78.10,453.28 L78.80,457.63 L79.50,464.96 L80.20,475.06 L80.90,480.09 L81.60,490.88 L82.30,496.79 L83.00,505.17 L83.70,509.42 L84.40,514.42 L85.10,518.02 L85.80,521.13 L86.50,523.51 L87.20,525.08 L87.90,526.24 L88.60,527.02 L89.30,527.55 L90.00,527.84 L90.70,528.03 L91.40,528.16 L92.10,528.22 L92.80,528.26 L93.50,528.28 L94.20,528.29 L94.90,528.29 L95.60,528.30 L96.30,528.30 L97.00,528.30 L97.70,528.30 L98.40,528.30 L99.10,528.30 L99.80,528.30 L100.50,528.30 L101.20,528.30 L101.90,528.30 L102.60,528.30 L103.30,528.30 L104.00,528.30 L104.70,528.30 L105.40,528.30 L106.10,528.30 L106.80,528.30 L107.50,528.30 L108.20,528.30 L108.90,528.30 L109.60,528.30 L110.30,528.30 L111.00,528.30 L111.70,528.30 L112.40,528.30 L113.10,528.30 L113.80,528.30 L114.50,528.30 L115.20,528.30 L115.90,528.30 L116.60,528.30 L117.30,528.30 L118.00,528.30 L118.70,528.30 L119.40,528.30" fill="none" stroke="#bbb" stroke-width="0.8"/>
<path d="M61.50,528.30 L64.00,527.50 L66.20,525.00 L69.60,520.00 L73.00,510.00 L75.30,500.00 L77.00,485.00 L77.60,480.00 L78.60,470.00 L79.50,460.00 L80.30,452.00 L80.80,456.00 L81.40,449.60 L82.00,453.00 L82.60,449.00 L83.40,446.70 L84.00,450.00 L84.30,450.00 L85.30,460.00 L86.70,470.00 L88.20,480.00 L89.80,485.00 L91.80,500.00 L93.20,510.00 L95.20,520.00 L97.90,525.00 L101.90,528.30 Z" fill="#000" stroke="#000" stroke-width="0.4"/>
<line x1="29.6" y1="528.30" x2="31.6" y2="528.30" stroke="#999" stroke-width="0.7"/>
<text x="28.6" y="529.90" font-size="4.5" text-anchor="end" fill="#555" stroke="#555" stroke-width="0.1">0</text>
<line x1="29.6" y1="511.80" x2="31.6" y2="511.80" stroke="#999" stroke-width="0.7"/>
<text x="28.6" y="513.40" font-size="4.5" text-anchor="end" fill="#555" stroke="#555" stroke-width="0.1">20</text>
<line x1="29.6" y1="495.30" x2="31.6" y2="495.30" stroke="#999" stroke-width="0.7"/>
<text x="28.6" y="496.90" font-size="4.5" text-anchor="end" fill="#555" stroke="#555" stroke-width="0.1">40</text>
<line x1="29.6" y1="478.80" x2="31.6" y2="478.80" stroke="#999" stroke-width="0.7"/>
<text x="28.6" y="480.40" font-size="4.5" text-anchor="end" fill="#555" stroke="#555" stroke-width="0.1">60</text>
<line x1="29.6" y1="462.30" x2="31.6" y2="462.30" stroke="#999" stroke-width="0.7"/>
<text x="28.6" y="463.90" font-size="4.5" text-anchor="end" fill="#555" stroke="#555" stroke-width="0.1">80</text>
<line x1="29.6" y1="445.80" x2="31.6" y2="445.80" stroke="#999" stroke-width="0.7"/>
<text x="28.6" y="447.40" font-size="4.5" text-anchor="end" fill="#555" stroke="#555" stroke-width="0.1">100</text>
<line x1="30.400000000000002" y1="524.17" x2="31.6" y2="524.17" stroke="#bbb" stroke-width="0.6"/>
<line x1="30.400000000000002" y1="520.05" x2="31.6" y2="520.05" stroke="#bbb" stroke-width="0.6"/>
<line x1="30.400000000000002" y1="515.92" x2="31.6" y2="515.92" stroke="#bbb" stroke-width="0.6"/>
<line x1="30.400000000000002" y1="507.67" x2="31.6" y2="507.67" stroke="#bbb" stroke-width="0.6"/>
<line x1="30.400000000000002" y1="503.55" x2="31.6" y2="503.55" stroke="#bbb" stroke-width="0.6"/>
<line x1="30.400000000000002" y1="499.42" x2="31.6" y2="499.42" stroke="#bbb" stroke-width="0.6"/>
<line x1="30.400000000000002" y1="491.17" x2="31.6" y2="491.17" stroke="#bbb" stroke-width="0.6"/>
<line x1="30.400000000000002" y1="487.05" x2="31.6" y2="487.05" stroke="#bbb" stroke-width="0.6"/>
<line x1="30.400000000000002" y1="482.92" x2="31.6" y2="482.92" stroke="#bbb" stroke-width="0.6"/>
<line x1="30.400000000000002" y1="474.68" x2="31.6" y2="474.68" stroke="#bbb" stroke-width="0.6"/>
<line x1="30.400000000000002" y1="470.55" x2="31.6" y2="470.55" stroke="#bbb" stroke-width="0.6"/>
<line x1="30.400000000000002" y1="466.43" x2="31.6" y2="466.43" stroke="#bbb" stroke-width="0.6"/>
<line x1="30.400000000000002" y1="458.18" x2="31.6" y2="458.18" stroke="#bbb" stroke-width="0.6"/>
<line x1="30.400000000000002" y1="454.05" x2="31.6" y2="454.05" stroke="#bbb" stroke-width="0.6"/>
<line x1="30.400000000000002" y1="449.93" x2="31.6" y2="449.93" stroke="#bbb" stroke-width="0.6"/>
<line x1="37.60" y1="530.0" x2="37.60" y2="531.8" stroke="#aaa" stroke-width="0.7"/>
<text x="37.00" y="537.00" font-size="4.0" text-anchor="middle" fill="#777">10<tspan font-size="2.8" dy="-1.6">3</tspan></text>
<line x1="79.00" y1="530.0" x2="79.00" y2="531.8" stroke="#aaa" stroke-width="0.7"/>
<text x="78.40" y="537.00" font-size="4.0" text-anchor="middle" fill="#777">10<tspan font-size="2.8" dy="-1.6">4</tspan></text>
<line x1="119.00" y1="530.0" x2="119.00" y2="531.8" stroke="#aaa" stroke-width="0.7"/>
<text x="118.40" y="537.00" font-size="4.0" text-anchor="middle" fill="#777">10<tspan font-size="2.8" dy="-1.6">5</tspan></text>
<line x1="35.3" y1="543.7" x2="123.2" y2="543.7" stroke="#000" stroke-width="2.8"/>
<polyline points="115.0,539.9000000000001 124.2,543.7 115.0,547.9000000000001" fill="none" stroke="#000" stroke-width="2.8" stroke-linecap="round" stroke-linejoin="miter"/>
<text x="77.7" y="555.6" font-size="11" text-anchor="middle" stroke="#000" stroke-width="0.3" textLength="24.6" lengthAdjust="spacingAndGlyphs">Bcl-2</text>
<rect x="127.7" y="445.3" width="20.50" height="7.30" fill="#000"/>
<line x1="128.2" y1="461.3" x2="147.70000000000002" y2="461.3" stroke="#000" stroke-width="2.4"/>
<line x1="128.2" y1="474.4" x2="147.70000000000002" y2="474.4" stroke="#000" stroke-width="2.4"/>
<line x1="128.2" y1="487.0" x2="147.70000000000002" y2="487.0" stroke="#555" stroke-width="2.0"/>
<line x1="128.2" y1="499.8" x2="147.70000000000002" y2="499.8" stroke="#555" stroke-width="2.0"/>
<line x1="128.2" y1="513.5" x2="147.70000000000002" y2="513.5" stroke="#999" stroke-width="2.0"/>
<text x="181.05" y="450.4" font-size="9.2" text-anchor="middle" stroke="#000" stroke-width="0.35" textLength="53.2" lengthAdjust="spacingAndGlyphs">CD5 CAR T</text>
<text x="172.7" y="463.8" font-size="9.2" text-anchor="middle" stroke="#000" stroke-width="0.35" textLength="30.5" lengthAdjust="spacingAndGlyphs">Jurkat</text>
<text x="171.45" y="476.8" font-size="9.2" text-anchor="middle" stroke="#000" stroke-width="0.35" textLength="28.0" lengthAdjust="spacingAndGlyphs">CCRF</text>
<text x="175.4" y="489.6" font-size="9.2" text-anchor="middle" stroke="#000" stroke-width="0.35" textLength="33.7" lengthAdjust="spacingAndGlyphs">MOLT4</text>
<text x="171.75" y="502.4" font-size="9.2" text-anchor="middle" stroke="#000" stroke-width="0.35" textLength="27.4" lengthAdjust="spacingAndGlyphs">Hut78</text>
<text x="173.0" y="515.6" font-size="9.2" text-anchor="middle" stroke="#000" stroke-width="0.35" textLength="30.0" lengthAdjust="spacingAndGlyphs">SupT1</text>
</svg>
</body></html>
